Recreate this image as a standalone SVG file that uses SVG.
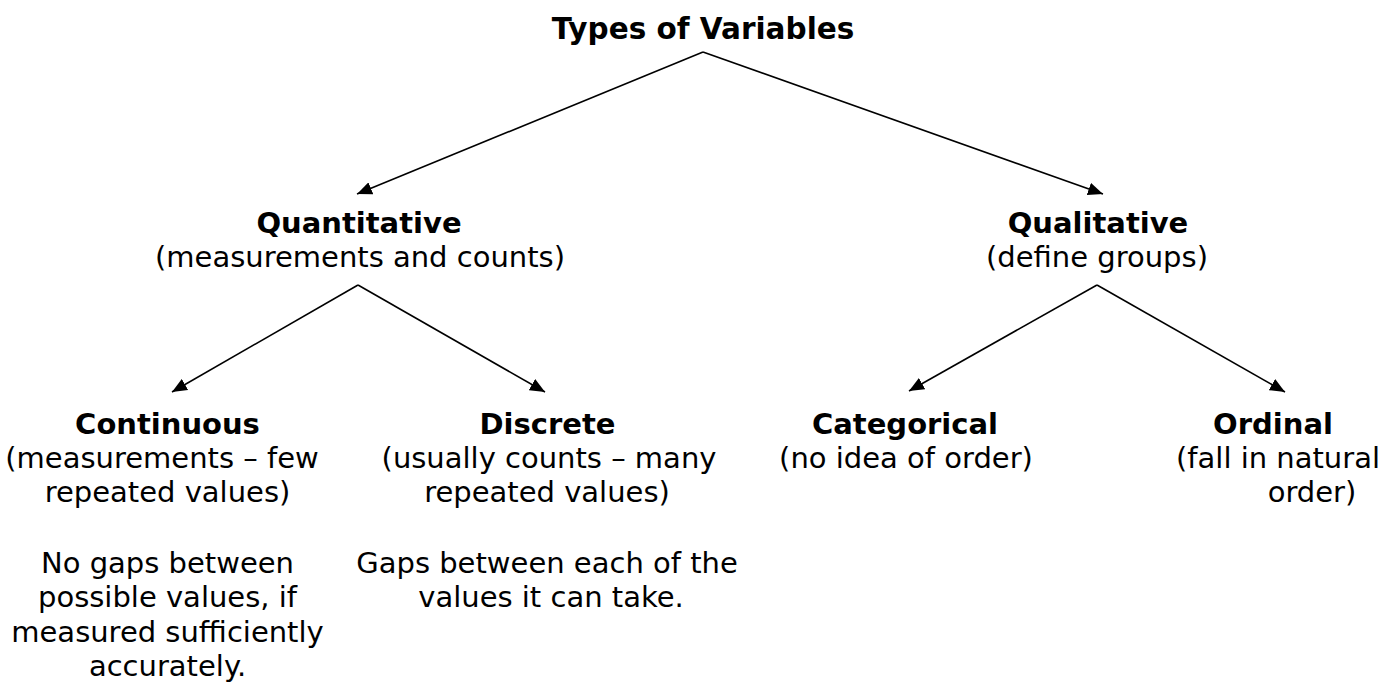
<svg xmlns="http://www.w3.org/2000/svg" width="1394" height="684" viewBox="0 0 1394 684">
<style>
text{font-family:"DejaVu Sans",Verdana,sans-serif;font-size:29px;fill:#000;text-anchor:middle}
.b{font-weight:bold}
.c line{stroke:#000;stroke-width:1.6;fill:none}
</style>
<defs>
<marker id="ah" viewBox="0 0 14 12" refX="14" refY="6" markerWidth="15" markerHeight="13" markerUnits="userSpaceOnUse" orient="auto">
<path d="M0,0 L14,6 L0,12 Z" fill="#000"/>
</marker>
</defs>
<rect width="1394" height="684" fill="#fff"/>
<g class="c" id="connectors">
<line x1="703" y1="52" x2="357" y2="194" marker-end="url(#ah)"/>
<line x1="703" y1="52" x2="1103" y2="194" marker-end="url(#ah)"/>
<line x1="358" y1="285" x2="172" y2="392" marker-end="url(#ah)"/>
<line x1="358" y1="285" x2="545" y2="392" marker-end="url(#ah)"/>
<line x1="1097" y1="285" x2="909" y2="391" marker-end="url(#ah)"/>
<line x1="1097" y1="285" x2="1285" y2="392" marker-end="url(#ah)"/>
</g>
<g id="title"><text class="b" x="703" y="39" style="font-size:29.5px">Types of Variables</text></g>
<g id="quantitative">
<text class="b" x="359" y="233">Quantitative</text>
<text x="360" y="267">(measurements and counts)</text>
</g>
<g id="qualitative">
<text class="b" x="1098" y="233">Qualitative</text>
<text x="1097" y="267">(define groups)</text>
</g>
<g id="continuous">
<text class="b" x="167.5" y="434">Continuous</text>
<text x="162" y="468">(measurements – few</text>
<text x="167.5" y="502">repeated values)</text>
<text x="167.5" y="573">No gaps between</text>
<text x="167.5" y="607">possible values, if</text>
<text x="167.5" y="642">measured sufficiently</text>
<text x="167.5" y="676">accurately.</text>
</g>
<g id="discrete">
<text class="b" x="547.5" y="434">Discrete</text>
<text x="549" y="468">(usually counts – many</text>
<text x="547" y="502">repeated values)</text>
<text x="547" y="573">Gaps between each of the</text>
<text x="551" y="607">values it can take.</text>
</g>
<g id="categorical">
<text class="b" x="905" y="434">Categorical</text>
<text x="906" y="468">(no idea of order)</text>
</g>
<g id="ordinal">
<text class="b" x="1273" y="434">Ordinal</text>
<text x="1278" y="468">(fall in natural</text>
<text x="1312" y="502">order)</text>
</g>
</svg>
